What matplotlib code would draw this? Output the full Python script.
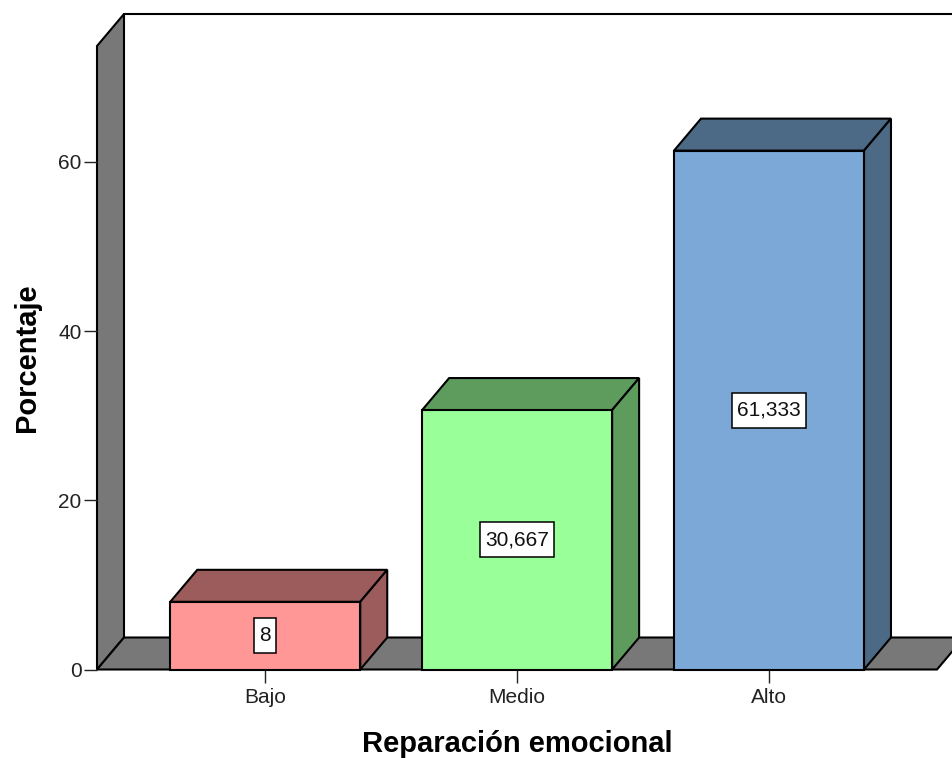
import matplotlib

matplotlib.use("Agg")
import matplotlib.pyplot as plt
from matplotlib.patches import Polygon, Rectangle
from matplotlib.transforms import IdentityTransform

plt.rcParams["font.family"] = ["Liberation Sans", "DejaVu Sans"]

categories = ["Bajo", "Medio", "Alto"]
percentages = [8, 30.667, 61.333]
value_labels = ["8", "30,667", "61,333"]
y_ticks = [0, 20, 40, 60]

front_colors = ["#FF9797", "#99FF99", "#7BA8D6"]
dark_colors = ["#9C5C5C", "#5E9C5E", "#4C6A85"]
wall_color = "#787878"
line_w = 1.5

# pixel layout of the reference
W, H = 952, 758
left, right, bottom, top = 97, 937, 669.5, 46
y_scale = 8.46
x_scale = 251.9

fig = plt.figure(figsize=(W / 100, H / 100), dpi=100)
ax = fig.add_axes(
    [left / W, 1 - bottom / H, (right - left) / W, (bottom - top) / H]
)
ax.set_xlim(-0.668, 2.667)
ax.set_ylim(0, (bottom - top) / y_scale)

# depth of the fake 3d box, in data units
dx = 27 / x_scale
dy = 32 / y_scale
x0, x1 = ax.get_xlim()
y1 = ax.get_ylim()[1]


def poly(points, color):
    ax.add_patch(
        Polygon(
            points,
            closed=True,
            facecolor=color,
            edgecolor="black",
            linewidth=line_w,
            joinstyle="miter",
            clip_on=False,
        )
    )


# walls
poly([(x0, 0), (x0 + dx, dy), (x0 + dx, y1 + dy), (x0, y1)], wall_color)
poly([(x0, 0), (x0 + dx, dy), (x1 + dx, dy), (x1, 0)], wall_color)
ax.plot(
    [x0 + dx, x1 + dx], [y1 + dy, y1 + dy], color="black", lw=line_w, clip_on=False
)

# bars
bar_w = 190 / x_scale
for i, val in enumerate(percentages):
    a, b = i - bar_w / 2, i + bar_w / 2
    poly([(a, val), (a + dx, val + dy), (b + dx, val + dy), (b, val)], dark_colors[i])
    poly([(b, 0), (b + dx, dy), (b + dx, val + dy), (b, val)], dark_colors[i])
    poly([(a, 0), (a, val), (b, val), (b, 0)], front_colors[i])

# value boxes need the text size, so place them after a renderer exists
renderer = fig.canvas.get_renderer()
for i, val in enumerate(percentages):
    t = ax.text(
        i, val / 2, value_labels[i], ha="center", va="center", fontsize=15,
        color="#111111", zorder=6,
    )
    ext = t.get_window_extent(renderer)
    cx, cy = ax.transData.transform((i, val / 2))
    box_w, box_h = ext.width + 10, 35
    ax.add_patch(
        Rectangle(
            (cx - box_w / 2, cy - box_h / 2), box_w, box_h,
            facecolor="white", edgecolor="black", linewidth=1.1,
            transform=IdentityTransform(), zorder=5, clip_on=False,
        )
    )

for s in ax.spines.values():
    s.set_visible(False)
ax.patch.set_visible(False)

ax.set_xticks(range(len(categories)))
ax.set_xticklabels(categories)
ax.set_yticks(y_ticks)
ax.tick_params(axis="both", length=9.5, width=1.0, labelsize=15, pad=1.5,
               color="#222222", labelcolor="#222222")
ax.tick_params(axis="x", pad=3.5)

ax.set_xlabel("Reparación emocional", fontsize=21, fontweight="bold")
ax.xaxis.set_label_coords((517 - left) / (right - left), -(743.5 - bottom) / (bottom - top))
ax.xaxis.label.set_va("center")
ax.set_ylabel("Porcentaje", fontsize=21, fontweight="bold")
ax.yaxis.set_label_coords((27 - left) / (right - left), (bottom - 358) / (bottom - top))
ax.yaxis.label.set_va("center")

fig.savefig("out.png", dpi=100)
